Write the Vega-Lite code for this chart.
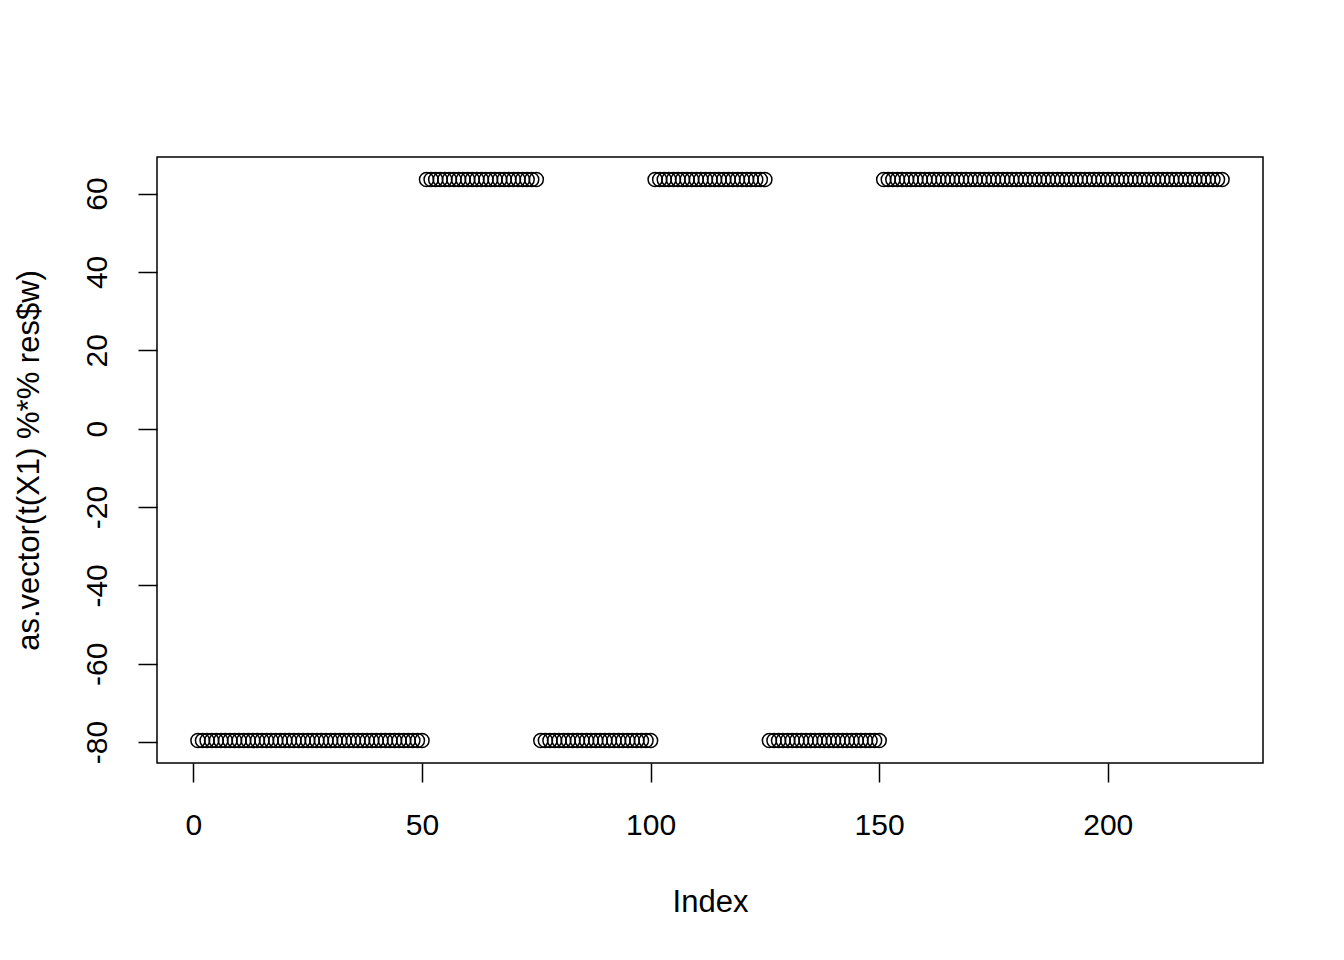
{
"$schema":"https://vega.github.io/schema/vega-lite/v6.json",
"autosize":{"type":"none"},
"padding":{"left":157,"top":157,"right":81,"bottom":197},
"width":1106,"height":606,
"background":"white",
"config":{"view":{"stroke":"black","strokeWidth":1.5},
"axis":{"grid":false,"domain":false,"tickColor":"black","tickWidth":1.5,"tickSize":19,"labelFont":"Liberation Sans","titleFont":"Liberation Sans","labelFontSize":30,"titleFontSize":31,"labelColor":"black","titleColor":"black","titleFontWeight":"normal","labelExpr":"'' + datum.value"}},
"data":{"values":[
{"x":1,"y":-79.6},{"x":2,"y":-79.6},{"x":3,"y":-79.6},{"x":4,"y":-79.6},{"x":5,"y":-79.6},{"x":6,"y":-79.6},{"x":7,"y":-79.6},{"x":8,"y":-79.6},{"x":9,"y":-79.6},{"x":10,"y":-79.6},
{"x":11,"y":-79.6},{"x":12,"y":-79.6},{"x":13,"y":-79.6},{"x":14,"y":-79.6},{"x":15,"y":-79.6},{"x":16,"y":-79.6},{"x":17,"y":-79.6},{"x":18,"y":-79.6},{"x":19,"y":-79.6},{"x":20,"y":-79.6},
{"x":21,"y":-79.6},{"x":22,"y":-79.6},{"x":23,"y":-79.6},{"x":24,"y":-79.6},{"x":25,"y":-79.6},{"x":26,"y":-79.6},{"x":27,"y":-79.6},{"x":28,"y":-79.6},{"x":29,"y":-79.6},{"x":30,"y":-79.6},
{"x":31,"y":-79.6},{"x":32,"y":-79.6},{"x":33,"y":-79.6},{"x":34,"y":-79.6},{"x":35,"y":-79.6},{"x":36,"y":-79.6},{"x":37,"y":-79.6},{"x":38,"y":-79.6},{"x":39,"y":-79.6},{"x":40,"y":-79.6},
{"x":41,"y":-79.6},{"x":42,"y":-79.6},{"x":43,"y":-79.6},{"x":44,"y":-79.6},{"x":45,"y":-79.6},{"x":46,"y":-79.6},{"x":47,"y":-79.6},{"x":48,"y":-79.6},{"x":49,"y":-79.6},{"x":50,"y":-79.6},
{"x":51,"y":63.6},{"x":52,"y":63.6},{"x":53,"y":63.6},{"x":54,"y":63.6},{"x":55,"y":63.6},{"x":56,"y":63.6},{"x":57,"y":63.6},{"x":58,"y":63.6},{"x":59,"y":63.6},{"x":60,"y":63.6},
{"x":61,"y":63.6},{"x":62,"y":63.6},{"x":63,"y":63.6},{"x":64,"y":63.6},{"x":65,"y":63.6},{"x":66,"y":63.6},{"x":67,"y":63.6},{"x":68,"y":63.6},{"x":69,"y":63.6},{"x":70,"y":63.6},
{"x":71,"y":63.6},{"x":72,"y":63.6},{"x":73,"y":63.6},{"x":74,"y":63.6},{"x":75,"y":63.6},
{"x":76,"y":-79.6},{"x":77,"y":-79.6},{"x":78,"y":-79.6},{"x":79,"y":-79.6},{"x":80,"y":-79.6},
{"x":81,"y":-79.6},{"x":82,"y":-79.6},{"x":83,"y":-79.6},{"x":84,"y":-79.6},{"x":85,"y":-79.6},{"x":86,"y":-79.6},{"x":87,"y":-79.6},{"x":88,"y":-79.6},{"x":89,"y":-79.6},{"x":90,"y":-79.6},
{"x":91,"y":-79.6},{"x":92,"y":-79.6},{"x":93,"y":-79.6},{"x":94,"y":-79.6},{"x":95,"y":-79.6},{"x":96,"y":-79.6},{"x":97,"y":-79.6},{"x":98,"y":-79.6},{"x":99,"y":-79.6},{"x":100,"y":-79.6},
{"x":101,"y":63.6},{"x":102,"y":63.6},{"x":103,"y":63.6},{"x":104,"y":63.6},{"x":105,"y":63.6},{"x":106,"y":63.6},{"x":107,"y":63.6},{"x":108,"y":63.6},{"x":109,"y":63.6},{"x":110,"y":63.6},
{"x":111,"y":63.6},{"x":112,"y":63.6},{"x":113,"y":63.6},{"x":114,"y":63.6},{"x":115,"y":63.6},{"x":116,"y":63.6},{"x":117,"y":63.6},{"x":118,"y":63.6},{"x":119,"y":63.6},{"x":120,"y":63.6},
{"x":121,"y":63.6},{"x":122,"y":63.6},{"x":123,"y":63.6},{"x":124,"y":63.6},{"x":125,"y":63.6},
{"x":126,"y":-79.6},{"x":127,"y":-79.6},{"x":128,"y":-79.6},{"x":129,"y":-79.6},{"x":130,"y":-79.6},
{"x":131,"y":-79.6},{"x":132,"y":-79.6},{"x":133,"y":-79.6},{"x":134,"y":-79.6},{"x":135,"y":-79.6},{"x":136,"y":-79.6},{"x":137,"y":-79.6},{"x":138,"y":-79.6},{"x":139,"y":-79.6},{"x":140,"y":-79.6},
{"x":141,"y":-79.6},{"x":142,"y":-79.6},{"x":143,"y":-79.6},{"x":144,"y":-79.6},{"x":145,"y":-79.6},{"x":146,"y":-79.6},{"x":147,"y":-79.6},{"x":148,"y":-79.6},{"x":149,"y":-79.6},{"x":150,"y":-79.6},
{"x":151,"y":63.6},{"x":152,"y":63.6},{"x":153,"y":63.6},{"x":154,"y":63.6},{"x":155,"y":63.6},{"x":156,"y":63.6},{"x":157,"y":63.6},{"x":158,"y":63.6},{"x":159,"y":63.6},{"x":160,"y":63.6},
{"x":161,"y":63.6},{"x":162,"y":63.6},{"x":163,"y":63.6},{"x":164,"y":63.6},{"x":165,"y":63.6},{"x":166,"y":63.6},{"x":167,"y":63.6},{"x":168,"y":63.6},{"x":169,"y":63.6},{"x":170,"y":63.6},
{"x":171,"y":63.6},{"x":172,"y":63.6},{"x":173,"y":63.6},{"x":174,"y":63.6},{"x":175,"y":63.6},{"x":176,"y":63.6},{"x":177,"y":63.6},{"x":178,"y":63.6},{"x":179,"y":63.6},{"x":180,"y":63.6},
{"x":181,"y":63.6},{"x":182,"y":63.6},{"x":183,"y":63.6},{"x":184,"y":63.6},{"x":185,"y":63.6},{"x":186,"y":63.6},{"x":187,"y":63.6},{"x":188,"y":63.6},{"x":189,"y":63.6},{"x":190,"y":63.6},
{"x":191,"y":63.6},{"x":192,"y":63.6},{"x":193,"y":63.6},{"x":194,"y":63.6},{"x":195,"y":63.6},{"x":196,"y":63.6},{"x":197,"y":63.6},{"x":198,"y":63.6},{"x":199,"y":63.6},{"x":200,"y":63.6},
{"x":201,"y":63.6},{"x":202,"y":63.6},{"x":203,"y":63.6},{"x":204,"y":63.6},{"x":205,"y":63.6},{"x":206,"y":63.6},{"x":207,"y":63.6},{"x":208,"y":63.6},{"x":209,"y":63.6},{"x":210,"y":63.6},
{"x":211,"y":63.6},{"x":212,"y":63.6},{"x":213,"y":63.6},{"x":214,"y":63.6},{"x":215,"y":63.6},{"x":216,"y":63.6},{"x":217,"y":63.6},{"x":218,"y":63.6},{"x":219,"y":63.6},{"x":220,"y":63.6},
{"x":221,"y":63.6},{"x":222,"y":63.6},{"x":223,"y":63.6},{"x":224,"y":63.6},{"x":225,"y":63.6}
]},
"mark":{"type":"point","shape":"circle","filled":false,"stroke":"black","strokeWidth":1.5,"size":200,"opacity":1},
"encoding":{
"x":{"field":"x","type":"quantitative","title":"Index","scale":{"domain":[-7.96,233.96],"nice":false,"zero":false},
"axis":{"values":[0,50,100,150,200],"labelPadding":28,"titlePadding":47,"labelFlush":false}},
"y":{"field":"y","type":"quantitative","title":"as.vector(t(X1) %*% res$w)","scale":{"domain":[-85.33,69.33],"nice":false,"zero":false},
"axis":{"values":[-80,-60,-40,-20,0,20,40,60],"labelAngle":270,"labelAlign":"center","labelBaseline":"bottom","labelPadding":26,"titlePadding":37,"labelFlush":false}}
}
}
